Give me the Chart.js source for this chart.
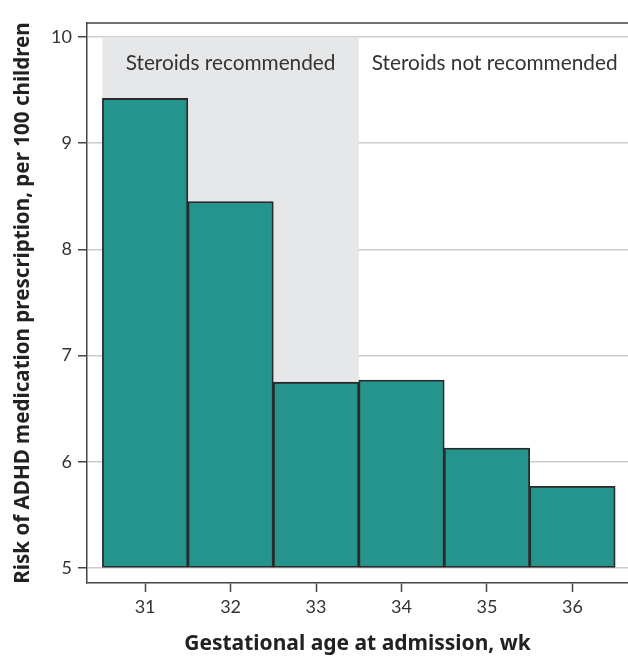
<!DOCTYPE html>
<html>
<head>
<meta charset="utf-8">
<script src="https://cdn.jsdelivr.net/npm/chart.js@4"></script>
<style>
html,body{margin:0;padding:0;background:#fff;}
#wrap{width:628px;height:657px;position:relative;}
</style>
</head>
<body>
<div id="wrap"><canvas id="c" width="628" height="657"></canvas></div>
<script>
// Data
const weeks = [31, 32, 33, 34, 35, 36];
const risk = [9.42, 8.45, 6.75, 6.77, 6.13, 5.77];
const yTicks = [5, 6, 7, 8, 9, 10];
const xTicks = [31, 32, 33, 34, 35, 36];
const shadeRange = [30.5, 33.5];
const shadeY = [5, 10];
const noteLabels = ['Steroids recommended', 'Steroids not recommended'];
const noteX = [32, 35.09];
const noteY = [9.75, 9.75];

const FONT = 'Lato, "Noto Sans", sans-serif';
const TFONT = '"Noto Sans", sans-serif';

const bgPlugin = {
  id: 'bg',
  beforeDatasetsDraw(chart) {
    const {ctx, scales: {x, y}} = chart;
    ctx.save();
    ctx.fillStyle = '#e6e7e9';
    const x0 = x.getPixelForValue(shadeRange[0]), x1 = x.getPixelForValue(shadeRange[1]);
    const y0 = y.getPixelForValue(shadeY[1]), y1 = y.getPixelForValue(shadeY[0]);
    ctx.fillRect(x0, y0, x1 - x0, y1 - y0);
    ctx.fillStyle = '#333';
    ctx.font = '20.8px ' + FONT;
    ctx.textAlign = 'center';
    ctx.textBaseline = 'middle';
    noteLabels.forEach((t, i) => ctx.fillText(t, x.getPixelForValue(noteX[i]), y.getPixelForValue(noteY[i])));
    ctx.restore();
  },
  afterDraw(chart) {
    const {ctx, chartArea} = chart;
    ctx.save();
    ctx.strokeStyle = '#444';
    ctx.lineWidth = 1.5;
    ctx.beginPath();
    ctx.moveTo(chartArea.left, chartArea.top);
    ctx.lineTo(chartArea.right, chartArea.top);
    ctx.stroke();
    ctx.restore();
  }
};

new Chart(document.getElementById('c'), {
  type: 'bar',
  data: {
    datasets: [{
      data: weeks.map((w, i) => ({x: w, y: risk[i]})),
      base: 5,
      backgroundColor: '#24948c',
      borderColor: '#2a2a2a',
      borderWidth: 1.8,
      barPercentage: 1,
      categoryPercentage: 1,
      borderSkipped: false
    }]
  },
  options: {
    responsive: false,
    animation: false,
    layout: {padding: {top: 23, right: 0, left: 0, bottom: 0}},
    plugins: {legend: {display: false}, tooltip: {enabled: false}},
    scales: {
      x: {
        type: 'linear',
        min: 30.32,
        max: 36.65,
        offset: false,
        afterBuildTicks: s => { s.ticks = xTicks.map(v => ({value: v})); },
        afterFit: s => { s.height = 74; },
        grid: {offset: false, drawOnChartArea: false, drawTicks: true, tickLength: 9, tickColor: '#444', tickWidth: 1.5},
        border: {display: true, color: '#444', width: 1.5},
        ticks: {color: '#333', font: {family: FONT, size: 18}, padding: 4, maxRotation: 0},
        title: {display: true, text: 'Gestational age at admission, wk', color: '#222', font: {family: TFONT, size: 21, weight: 'bold'}, padding: {top: 8, bottom: 0}}
      },
      y: {
        type: 'linear',
        min: 4.86,
        max: 10.13,
        afterBuildTicks: s => { s.ticks = yTicks.map(v => ({value: v})); },
        afterFit: s => { s.width = 87; },
        grid: {color: '#cccccc', lineWidth: 1.5, drawTicks: true, tickLength: 9, tickColor: '#444', tickWidth: 1.5},
        border: {display: true, color: '#444', width: 1.5},
        ticks: {color: '#333', font: {family: FONT, size: 18}, padding: 6},
        title: {display: true, text: 'Risk of ADHD medication prescription, per 100 children', color: '#222', font: {family: TFONT, size: 20.6, weight: 'bold'}, padding: {top: 11, bottom: 0}}
      }
    }
  },
  plugins: [bgPlugin]
});
</script>
</body>
</html>
